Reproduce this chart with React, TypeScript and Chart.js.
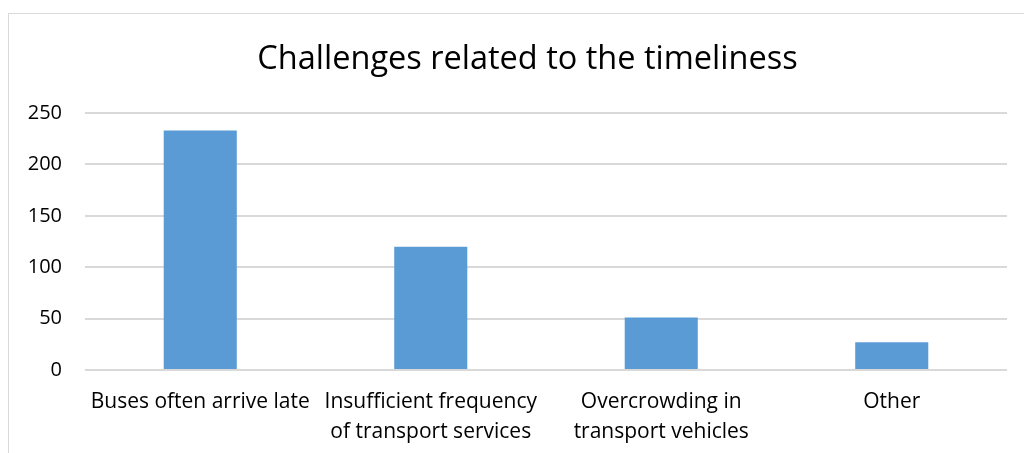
import React, { useEffect, useRef } from "react";
import { Chart, registerables } from "chart.js";

Chart.register(...registerables);

const categories: (string | string[])[] = [
  "Buses often arrive late",
  ["Insufficient frequency", "of transport services"],
  ["Overcrowding in", "transport vehicles"],
  "Other",
];
const values: number[] = [233, 120, 51, 27];
const yTicks = { min: 0, max: 250, step: 50 };
const titleText = "Challenges related to the timeliness";

const FONT = "'Open Sans', 'Liberation Sans', Arial, sans-serif";

const shiftTitle = {
  id: "shiftTitle",
  afterLayout(chart: any) {
    const t = chart.titleBlock;
    if (t) {
      t.left += 10.5;
      t.right += 10.5;
    }
  },
};

export default function App() {
  const ref = useRef<HTMLCanvasElement | null>(null);
  useEffect(() => {
    document.body.style.overflow = "hidden";
    const chart = new Chart(ref.current!, {
      type: "bar",
      data: {
        labels: categories,
        datasets: [
          {
            data: values,
            backgroundColor: "#5b9bd5",
            categoryPercentage: 1,
            barPercentage: 0.317,
          },
        ],
      },
      plugins: [shiftTitle],
      options: {
        animation: false,
        responsive: false,
        maintainAspectRatio: false,
        layout: { padding: { left: 18, right: 39, top: 0, bottom: 0 } },
        plugins: {
          legend: { display: false },
          tooltip: { enabled: false },
          title: {
            display: true,
            text: titleText,
            color: "#000",
            font: { family: FONT, size: 32.5, weight: "normal", lineHeight: 1.2 },
            padding: { top: 26, bottom: 34 },
          },
        },
        scales: {
          x: {
            grid: { display: false, drawTicks: false },
            border: { display: false },
            afterFit: (s: any) => {
              s.paddingLeft = 0;
              s.paddingRight = 0;
              s.height = 83;
            },
            ticks: {
              color: "#000",
              font: { family: FONT, size: 21, lineHeight: 1.43 },
              maxRotation: 0,
              autoSkip: false,
              padding: 17,
            },
          },
          y: {
            min: yTicks.min,
            max: yTicks.max,
            grid: { color: "#d9d9d9", lineWidth: 2, drawTicks: false },
            border: { display: false },
            afterFit: (s: any) => {
              s.width = 58;
            },
            ticks: {
              stepSize: yTicks.step,
              color: "#000",
              font: { family: FONT, size: 20 },
              padding: 23,
            },
          },
        },
      },
    });
    return () => chart.destroy();
  }, []);
  return (
    <div
      style={{
        marginTop: 5,
        width: 1040,
        height: 440,
        borderLeft: "1px solid #d9d9d9",
        borderTop: "1px solid #d9d9d9",
      }}
    >
      <canvas ref={ref} width={1037} height={439} style={{ display: "block" }} />
    </div>
  );
}
